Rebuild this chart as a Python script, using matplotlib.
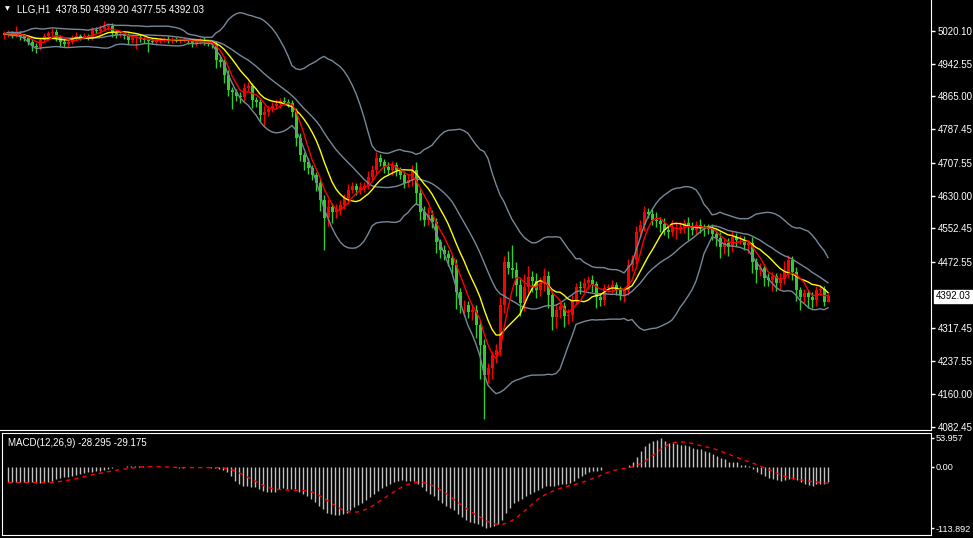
import matplotlib
matplotlib.use("Agg")
import matplotlib.pyplot as plt
import numpy as np
import pandas as pd

plt.rcParams["font.family"] = ["Liberation Sans", "DejaVu Sans"]

# --- data (LLG, H1) ---
symbol = "LLG,H1"
ohlc_text = "4378.50 4399.20 4377.55 4392.03"
macd_text = "MACD(12,26,9) -28.295 -29.175"
first_open = 5010.0

closes = [
    5013.0, 5015.4, 5010.6, 5013.0, 5008.3, 5003.5, 4994.1, 4984.6, 4982.2, 4998.8,
    5008.3, 5015.4, 5017.7, 5005.9, 4994.1, 4989.3, 4994.1, 5003.5, 5008.3, 5005.9,
    5008.3, 5005.9, 5022.5, 5020.1, 5024.8, 5029.6, 5031.9, 5015.4, 5010.6, 5013.0,
    5008.3, 4998.8, 5003.5, 5005.9, 5001.2, 4998.8, 4996.4, 4994.1, 4998.8, 4998.8,
    5001.2, 4998.8, 5001.2, 4998.8, 4998.8, 4998.8, 4996.4, 4991.7, 4994.1, 4998.8,
    4994.1, 4991.7, 4989.3, 4951.4, 4946.7, 4915.9, 4880.4, 4875.6, 4866.2, 4863.8,
    4885.1, 4889.9, 4856.7, 4852.0, 4821.2, 4828.3, 4835.4, 4842.5, 4847.2, 4854.3,
    4852.0, 4849.6, 4828.3, 4766.7, 4726.5, 4709.9, 4695.7, 4679.1, 4660.2, 4619.9,
    4577.3, 4603.3, 4591.5, 4596.2, 4608.1, 4624.6, 4643.6, 4653.0, 4643.6, 4650.7,
    4653.0, 4674.4, 4690.9, 4719.4, 4709.9, 4698.0, 4690.9, 4702.8, 4690.9, 4679.1,
    4660.2, 4667.3, 4690.9, 4636.5, 4591.5, 4572.5, 4584.4, 4567.8, 4520.4, 4501.5,
    4492.0, 4482.6, 4466.0, 4402.0, 4371.3, 4371.3, 4354.7, 4359.4, 4323.9, 4276.5,
    4205.5, 4222.1, 4252.9, 4264.7, 4371.3, 4473.1, 4458.9, 4454.2, 4418.6, 4376.0,
    4413.9, 4437.6, 4428.1, 4406.8, 4423.4, 4439.9, 4394.9, 4342.8, 4359.4, 4368.9,
    4345.2, 4347.6, 4383.1, 4413.9, 4411.5, 4423.4, 4430.5, 4421.0, 4390.2, 4383.1,
    4411.5, 4413.9, 4418.6, 4406.8, 4392.6, 4406.8, 4466.0, 4477.8, 4544.1, 4560.7,
    4591.5, 4586.7, 4572.5, 4570.2, 4563.1, 4548.9, 4544.1, 4553.6, 4553.6, 4556.0,
    4565.4, 4556.0, 4548.9, 4560.7, 4556.0, 4553.6, 4551.2, 4539.4, 4529.9, 4508.2,
    4518.1, 4508.2, 4532.3, 4525.2, 4525.2, 4513.3, 4518.1, 4473.1, 4454.2, 4458.9,
    4435.2, 4430.5, 4439.9, 4423.4, 4432.8, 4449.4, 4477.8, 4449.4, 4406.8, 4390.2,
    4399.7, 4390.2, 4383.1, 4406.8, 4409.2, 4378.5, 4392.03,
]

# wick lengths above the body / below the body (price points)
up_wick = [
    6, 8, 5, 20, 6, 4, 5, 8, 6, 5,
    7, 5, 10, 6, 4, 8, 5, 6, 9, 4,
    6, 5, 8, 6, 10, 15, 8, 6, 5, 7,
    5, 6, 8, 5, 6, 4, 5, 6, 7, 5,
    4, 6, 5, 4, 5, 6, 5, 4, 8, 5,
    6, 5, 4, 6, 10, 8, 12, 6, 8, 10,
    12, 10, 8, 6, 10, 15, 8, 10, 12, 8,
    10, 6, 8, 10, 12, 8, 10, 6, 8, 10,
    12, 20, 10, 15, 12, 10, 15, 10, 8, 12,
    10, 15, 12, 15, 10, 8, 12, 10, 8, 6,
    10, 15, 12, 18, 10, 15, 20, 12, 10, 8,
    12, 10, 8, 15, 10, 12, 10, 15, 12, 10,
    15, 12, 10, 15, 20, 15, 25, 55, 20, 15,
    30, 25, 15, 20, 15, 20, 12, 10, 15, 12,
    10, 15, 12, 10, 15, 12, 10, 12, 8, 10,
    10, 8, 12, 6, 10, 8, 15, 12, 15, 12,
    15, 10, 12, 20, 10, 15, 12, 20, 15, 12,
    10, 15, 12, 10, 15, 8, 10, 12, 10, 15,
    10, 12, 15, 10, 12, 10, 8, 15, 10, 12,
    10, 12, 10, 8, 15, 25, 12, 10, 12, 8,
    10, 8, 12, 10, 8, 6, 7.17,
]
low_wick = [
    10, 6, 8, 5, 10, 6, 8, 12, 14, 6,
    5, 8, 6, 10, 12, 6, 8, 5, 6, 8,
    5, 8, 6, 5, 6, 4, 8, 10, 6, 5,
    8, 10, 6, 25, 8, 6, 25, 5, 8, 6,
    5, 6, 8, 5, 6, 5, 8, 10, 6, 5,
    8, 6, 10, 20, 12, 20, 15, 40, 12, 15,
    10, 8, 20, 12, 15, 25, 10, 8, 6, 10,
    8, 10, 12, 20, 15, 20, 15, 12, 18, 25,
    75, 20, 25, 15, 12, 10, 15, 8, 12, 10,
    12, 8, 10, 12, 10, 15, 10, 12, 15, 10,
    12, 10, 15, 25, 20, 15, 12, 15, 25, 20,
    15, 20, 18, 40, 20, 25, 15, 20, 30, 80,
    105, 20, 25, 20, 15, 20, 15, 20, 25, 30,
    20, 15, 25, 20, 15, 20, 30, 30, 25, 20,
    25, 20, 15, 12, 15, 10, 15, 20, 25, 15,
    12, 10, 15, 12, 10, 15, 12, 15, 10, 12,
    15, 10, 12, 15, 20, 12, 15, 10, 25, 12,
    15, 30, 12, 10, 15, 20, 12, 15, 20, 25,
    15, 20, 12, 15, 10, 12, 20, 25, 30, 15,
    20, 15, 25, 20, 15, 12, 15, 20, 25, 30,
    15, 25, 20, 15, 12, 10, 0.95,
]

macd_main = [
    -29, -29, -29, -29, -29, -29, -29, -30, -30, -29,
    -28, -26, -23, -21, -19, -18, -16, -15, -13, -11,
    -10, -9, -8, -7, -5, -4, -2, -1, -1, -1,
    1, 1, 2, 1, 1, 0, -1, -1, -1, -1,
    -1, -1, -1, -2, -2, -1, -1, -1, -1, -1,
    -1, -2, -2, -3, -6, -10, -17, -26, -31, -35,
    -35, -37, -38, -42, -45, -47, -47, -46, -41, -40,
    -41, -41, -41, -47, -50, -55, -60, -66, -72, -78,
    -86, -88, -90, -90, -88, -85, -80, -75, -71, -67,
    -62, -56, -50, -44, -39, -35, -31, -28, -26, -25,
    -26, -27, -27, -31, -38, -45, -50, -55, -61, -67,
    -72, -77, -81, -88, -94, -98, -102, -104, -107, -110,
    -113.892, -112, -110, -107, -98, -85, -76, -68, -63, -60,
    -55, -50, -46, -43, -40, -36, -35, -36, -34, -32,
    -31, -30, -26, -21, -17, -13, -10, -8, -7, -5,
    -1, 0, 0, -1, 0, 0, 4, 10, 19, 30,
    39, 45, 48, 51, 53.957, 48, 45, 45, 42, 41,
    41, 39, 36, 34, 34, 30, 28, 24, 21, 16,
    14, 9, 9, 9, 4, 4, 2.5, -4, -9, -13,
    -17, -21, -22, -24, -26, -24, -22, -22, -25, -29,
    -31, -33, -36, -31, -31, -31, -28.295,
]

price_ticks = [5020.10, 4942.55, 4865.00, 4787.45, 4707.55, 4630.00,
               4552.45, 4472.55, 4317.45, 4237.55, 4160.00, 4082.45]
macd_ticks = [53.957, 0.0, -113.892]
last_price = 4392.03

# --- indicators ---
close = pd.Series(closes)
opens = close.shift(1).fillna(first_open)
highs = np.maximum(opens, close) + np.array(up_wick)
lows = np.minimum(opens, close) - np.array(low_wick)
sma5 = close.rolling(5, min_periods=1).mean()
sma10 = close.rolling(10, min_periods=1).mean()
bb_mid = close.rolling(20, min_periods=1).mean()
bb_sd = close.rolling(20, min_periods=1).std(ddof=0)
signal = pd.Series(macd_main).rolling(9, min_periods=1).mean()

x = np.arange(len(closes))
up = close.values >= opens.values
colors = np.where(up, "#ff0000", "#32cd32")

W, H = 973, 538
fig = plt.figure(figsize=(W / 100, H / 100), dpi=100, facecolor="black")
ax = fig.add_axes([0, 1 - 430 / H, 931 / W, 430 / H], facecolor="black")
mx = fig.add_axes([2 / W, 3 / H, 929 / W, 102 / H], facecolor="black")

# candles
ax.vlines(x, lows, highs, colors=colors, lw=1, zorder=2)
ax.bar(x, np.abs(close - opens), bottom=np.minimum(opens, close), width=0.75,
       color=colors, linewidth=0, zorder=3)

# bollinger + moving averages
bb_col = "#778899"
ax.plot(x, bb_mid, color=bb_col, lw=1, zorder=4)
ax.plot(x, bb_mid + 2 * bb_sd, color=bb_col, lw=1, zorder=4)
ax.plot(x, bb_mid - 2 * bb_sd, color=bb_col, lw=1, zorder=4)
ax.plot(x, sma10, color="#ffff00", lw=1, zorder=5)
ax.plot(x, sma5, color="#ff0000", lw=1, zorder=6)

ax.set_xlim(-1, 231.75)
ax.set_ylim(4075.3, 5093.5)
ax.set_xticks([])
ax.yaxis.tick_right()
ax.set_yticks(price_ticks)
ax.set_yticklabels([f"{v:.2f}" for v in price_ticks])
ax.tick_params(axis="y", colors="white", labelcolor="white", labelsize=7,
               length=3, width=1, pad=2)
for s in ["top", "left"]:
    ax.spines[s].set_visible(False)
for s in ["right", "bottom"]:
    ax.spines[s].set_color("white")

ax.annotate(f"{last_price:.2f}", xy=(1, last_price),
            xycoords=("axes fraction", "data"), xytext=(3.5, 0),
            textcoords="offset points", va="center", ha="left",
            fontsize=7, color="black",
            bbox=dict(boxstyle="square,pad=0.15", fc="white", ec="white"))

fig.text(5 / W, 1 - 9 / H, "\u25bc", color="white", fontsize=4.5, va="center",
         family="DejaVu Sans")
fig.text(17 / W, 1 - 9 / H, f"{symbol}  {ohlc_text}", color="white",
         fontsize=7, va="center")

# MACD panel
mx.vlines(x, 0, macd_main, colors="#c0c0c0", lw=1)
mx.plot(x, signal, color="#ff0000", lw=1, dashes=(3, 3))
mx.set_xlim(-1.5, 231.75)
mx.set_ylim(-126.8, 63.2)
mx.set_xticks([])
mx.yaxis.tick_right()
mx.set_yticks(macd_ticks)
mx.set_yticklabels(["53.957", "0.00", "-113.892"])
mx.tick_params(axis="y", colors="white", labelcolor="white", labelsize=6.6,
               length=2, width=1, pad=1.5)
for s in mx.spines.values():
    s.set_color("white")
mx.text(0.006, 0.9, macd_text, transform=mx.transAxes, color="white",
        fontsize=7, va="center")

fig.savefig("out.png", dpi=100, facecolor="black")
